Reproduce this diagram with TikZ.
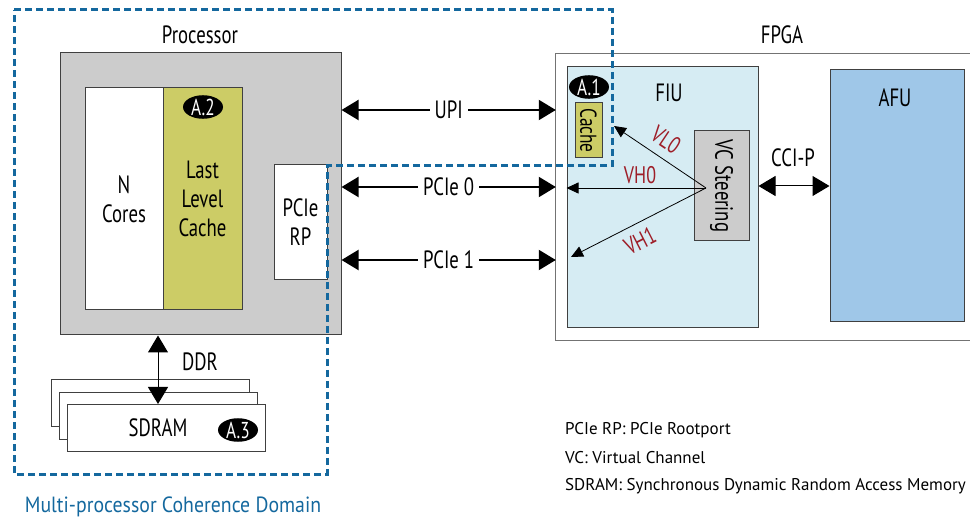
\documentclass[tikz,border=0pt]{standalone}
\usepackage{fontspec}
\setmainfont{PT Sans}[FakeStretch=0.75]
\newfontfamily\legendfont{PT Sans}
\newfontfamily\domainfont{PT Sans}[FakeStretch=0.9]
\usepackage{tikz}
\usetikzlibrary{arrows.meta}
\usetikzlibrary{positioning}
\usetikzlibrary{shapes.geometric}
\definecolor{procgray}{RGB}{204,204,204}
\definecolor{llcyellow}{RGB}{204,204,102}
\definecolor{fiublue}{RGB}{214,236,243}
\definecolor{afublue}{RGB}{159,199,232}
\definecolor{domainblue}{RGB}{20,104,158}
\definecolor{vcred}{RGB}{158,30,40}

\begin{document}
\begin{tikzpicture}
        [x=1pt,y=-1pt,
          every node/.style={font=\fontsize{25}{29}\selectfont,inner sep=0pt},
          box/.style={rectangle,draw=black!75,line width=1pt,align=center},
          badge/.style={ellipse,fill=black,text=white,minimum width=40pt,minimum height=20pt,font=\fontsize{23}{23}\selectfont},
          buswire/.style={{Triangle[length=17pt,width=20pt]}-{Triangle[length=17pt,width=20pt]},line width=2pt},
          linkwire/.style={{Triangle[length=17pt,width=20pt]}-{Triangle[length=17pt,width=20pt]},line width=1pt},
          vcarr/.style={-{Triangle[length=12pt,width=11pt]},line width=0.8pt},
          vclbl/.style={text=vcred,font=\fontsize{24}{24}\selectfont},
          legendtxt/.style={anchor=west,font=\legendfont\fontsize{17}{17}\selectfont},
          cohdomain/.style={draw=domainblue,line width=3pt,dash pattern=on 7pt off 4pt}]
        \useasboundingbox (0,0) rectangle (970,521);
        \node[box,fill=procgray,minimum width=281pt,minimum height=282pt] (proc) at (200.5,194) {};
        \node (proclbl) at (200,35) {Processor};
        \node[box,fill=white,minimum width=78pt,minimum height=222pt] (cores) at (124,199) {N\\Cores};
        \node[box,fill=llcyellow,minimum width=79pt,minimum height=222pt] (llc) at (202.5,199) {Last\\Level\\Cache};
        \node[badge] (a2) at (203,107) {A.2};
        \node[box,fill=white,minimum width=53pt,minimum height=115pt] (rp) at (300.5,222.5) {PCIe\\RP};
        \node[minimum width=414pt,minimum height=286pt] (fpga) at (763,197) {};
        \draw[black!55,line width=1.2pt] (fpga.north east) -- (fpga.north west) -- (fpga.south west) -- (fpga.south east);
        \node (fpgalbl) at (782,35) {FPGA};
        \node[box,fill=fiublue,minimum width=191pt,minimum height=261pt] (fiu) at (662.5,197.5) {};
        \node (fiulbl) at (669,93) {FIU};
        \node[badge] (a1) at (589,87) {A.1};
        \node[box,fill=llcyellow,minimum width=55pt,minimum height=27pt,rotate=-90,font=\fontsize{23}{23}\selectfont] (cache) at (588.5,130.5) {Cache};
        \node[box,fill=procgray,minimum width=110pt,minimum height=55pt,rotate=-90] (vcs) at (721.5,186) {VC Steering};
        \node[box,fill=afublue,minimum width=134pt,minimum height=252pt] (afu) at (897,196) {};
        \node (afulbl) at (895,98) {AFU};
        \draw[buswire] (proc.east |- 0,110) -- node[fill=white,inner xsep=5pt] (upi) {UPI} (fpga.west |- 0,110);
        \draw[buswire] (proc.east |- 0,187) -- node[fill=white,inner xsep=5pt] (pcie0) {PCIe 0} (fpga.west |- 0,187);
        \draw[buswire] (proc.east |- 0,260) -- node[fill=white,inner xsep=5pt] (pcie1) {PCIe 1} (fpga.west |- 0,260);
        \coordinate (vcsrc) at (706,188);
        \coordinate (vl0end) at (614,126);
        \coordinate (vh1end) at (571,257);
        \foreach \to in {vl0end,vh1end}
        \draw[vcarr] (vcsrc) -- (\to);
        \draw[vcarr] (vcsrc) -- (vcsrc -| fiu.west);
        \node[vclbl,rotate=-34] (vl0) at (666,140) {VL0};
        \node[vclbl] (vh0) at (640,175) {VH0};
        \node[vclbl,rotate=27] (vh1) at (640,241) {VH1};
        \draw[linkwire] (fiu.east |- vcs) -- (afu.west |- vcs);
        \node (ccip) at (793,158) {CCI-P};
        \node[box,fill=white,minimum width=198pt,minimum height=47pt] (sdram1) at (150,403.5) {};
        \node[box,fill=white,minimum width=198pt,minimum height=47pt] (sdram2) at (158,416.5) {};
        \node[box,fill=white,minimum width=198pt,minimum height=47pt] (sdram3) at (166.5,428) {};
        \node (sdramlbl) at (158,428) {SDRAM};
        \node[badge] (a3) at (238,430) {A.3};
        \coordinate (ddrx) at (158,362);
        \draw[linkwire] (proc.south -| ddrx) -- (sdram3.north -| ddrx);
        \node (ddr) at (200,362) {DDR};
        \draw[cohdomain] (14,10) -- (612,10) -- (612,166) -- (327,166) -- (327,474) -- (14,474) -- cycle;
        \node[text=domainblue,font=\domainfont\fontsize{22}{22}\selectfont] (domlbl) at (173,507) {Multi-processor Coherence Domain};
        \node[legendtxt] (lg1) at (565,430) {PCIe RP: PCIe Rootport};
        \node[legendtxt] (lg2) at (565,458) {VC: Virtual Channel};
        \node[legendtxt] (lg3) at (565,486) {SDRAM: Synchronous Dynamic Random Access Memory};
      \end{tikzpicture}
\end{document}
